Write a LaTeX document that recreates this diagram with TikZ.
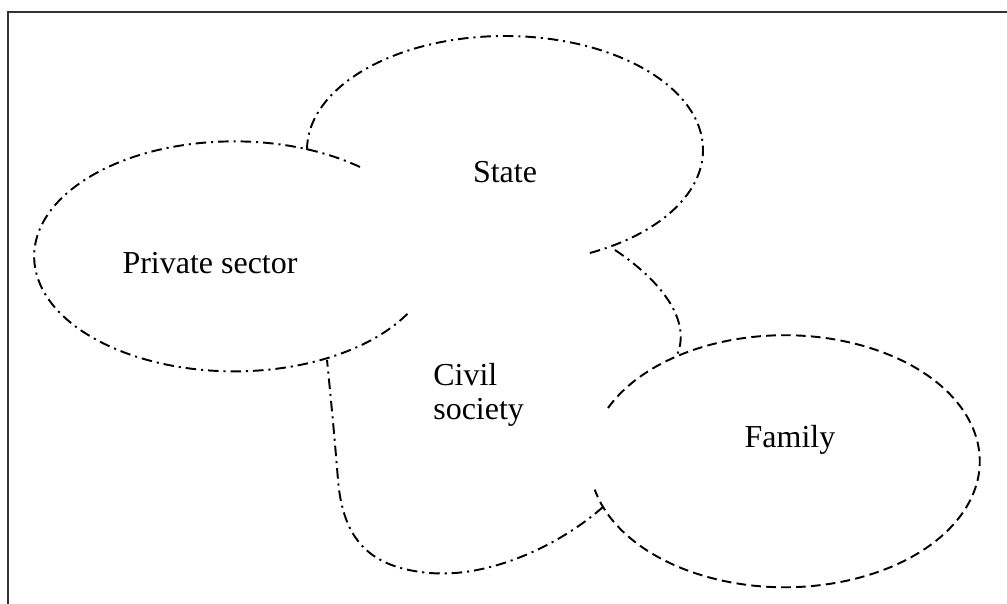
\documentclass[tikz,border=0pt]{standalone}
\usepackage{fontspec}
\setmainfont{Liberation Serif}
\tikzset{
  dashdot/.style={line width=1.1pt,dash pattern=on 6pt off 2.8pt on 1.2pt off 2.8pt},
  dashline/.style={line width=1.1pt,dash pattern=on 5.5pt off 3pt},
  label/.style={font=\fontsize{18.2}{19.5}\selectfont,inner sep=0pt}
}
\begin{document}
\begin{tikzpicture}[x=0.02cm,y=0.02cm]
      \useasboundingbox (0,0) rectangle (1007,-604);
      \draw[line width=1.3pt,black!80] (8,-604) -- (8,-12) -- (1007,-12);
      \draw
        (505,-172) node[label] (state){State}
        (210,-263) node[label] (private){Private sector}
        (433,-395) node[label,anchor=west,align=left] (civil){Civil\\society}
        (790,-440) node[label] (family){Family};
      \begin{scope}[dashdot]
        \draw (307,-150) arc[start angle=180,end angle=-65,x radius=198,y radius=114];
        \draw (360,-167) arc[start angle=51,end angle=332,x radius=200,y radius=115];
        \draw (615,-250) .. controls (660,-280) and (692,-320) .. (677,-355);
        \draw (603,-507) .. controls (560,-545) and (490,-578) .. (430,-573)
          .. controls (370,-568) and (343,-540) .. (338,-480)
          .. controls (334,-430) and (330,-390) .. (327,-360);
      \end{scope}
      \begin{scope}[dashline]
        \draw (608,-408) arc[start angle=155,end angle=-167,x radius=195,y radius=126];
      \end{scope}
    \end{tikzpicture}
\end{document}
